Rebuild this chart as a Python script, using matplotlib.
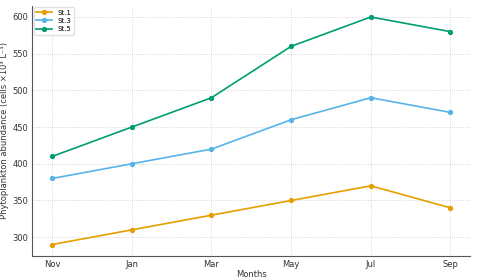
import matplotlib
matplotlib.use('Agg')
import matplotlib.pyplot as plt

months = ['Nov', 'Jan', 'Mar', 'May', 'Jul', 'Sep']
st1 = [290, 310, 330, 350, 370, 340]
st3 = [380, 400, 420, 460, 490, 470]
st5 = [410, 450, 490, 560, 600, 580]

series = [('St.1', st1, '#E69F00'), ('St.3', st3, '#56B4E9'), ('St.5', st5, '#009E73')]

fig = plt.figure(figsize=(4.8, 2.8), dpi=100)
ax = fig.add_axes([0.067, 0.086, 0.913, 0.894])

x = range(len(months))
for name, vals, col in series:
	ax.plot(x, vals, color=col, marker='o', markersize=2.8, linewidth=1.2, label=name)

ax.set_xticks(list(x))
ax.set_xticklabels(months)
ax.set_xlabel('Months', fontsize=6, color='#333333', labelpad=1)
ax.set_ylabel('Phytoplankton abundance (cells \u00d710\u00b3 L\u207b\u00b9)', fontsize=6, color='#333333', labelpad=2)
ax.tick_params(labelsize=6, colors='#333333', length=0, pad=3)
ax.grid(True, linestyle=':', color='#cccccc', linewidth=0.6)
for s in ['top', 'right']:
	ax.spines[s].set_visible(False)
for s in ['left', 'bottom']:
	ax.spines[s].set_color('#555555')
	ax.spines[s].set_linewidth(0.8)

ax.legend(loc='upper left', fontsize=5, frameon=True, framealpha=0.9, edgecolor='#dddddd',
	handlelength=2.2, borderaxespad=0.2, labelspacing=0.3)

fig.savefig('out.png', dpi=100)
